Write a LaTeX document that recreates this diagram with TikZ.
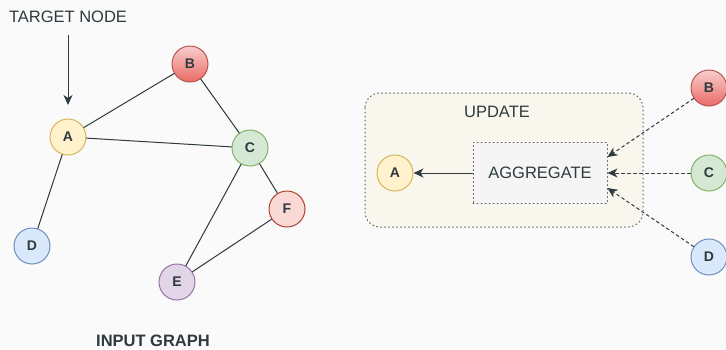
\documentclass[tikz,border=0pt]{standalone}
\usepackage{fontspec}
\setmainfont{Liberation Sans}
\usetikzlibrary{arrows.meta, bending, positioning, backgrounds}
\tikzset{x=1pt,y=-1pt, >={Stealth[length=10pt,width=9pt,inset=3pt]}}

\begin{document}
\begin{tikzpicture}
% Style
[
    line cap=round,
    vertex/.style={circle, minimum size=36pt, inner sep=0pt, line width=1pt,
        font=\fontsize{14}{16}\selectfont\bfseries, text=ink},
    edge line/.style={line width=1pt, draw=ink},
    feed line/.style={line width=1pt, draw=ink, dash pattern=on 3pt off 3pt, ->},
    label text/.style={font=\fontsize{16.5}{19}\selectfont, text=ink},
    dotted box/.style={line width=1pt, draw=ink!80, dash pattern=on 1pt off 3pt}
]

% Define: Colors
\definecolor{ink}{HTML}{2E3A3E}
\definecolor{paper}{HTML}{FAFAFA}
\definecolor{a_fill}{HTML}{FFF2CC}\definecolor{a_line}{HTML}{D6B656}
\definecolor{b_top}{HTML}{F8CECC}\definecolor{b_bot}{HTML}{EA6B66}\definecolor{b_line}{HTML}{B85450}
\definecolor{c_fill}{HTML}{D5E8D4}\definecolor{c_line}{HTML}{82B366}
\definecolor{d_fill}{HTML}{DAE8FC}\definecolor{d_line}{HTML}{6C8EBF}
\definecolor{e_fill}{HTML}{E1D5E7}\definecolor{e_line}{HTML}{9673A6}
\definecolor{f_fill}{HTML}{FAD9D5}\definecolor{f_line}{HTML}{AE4132}
\definecolor{update_fill}{HTML}{F9F7ED}
\definecolor{agg_fill}{HTML}{F5F5F5}

%=================================== Start ===================================
{
    % Define: Canvas
    \fill [paper] (0,0) rectangle (726,349);
    \useasboundingbox (0,0) rectangle (726,349);

    % Draw: Input graph
    \node [vertex, fill=a_fill, draw=a_line] (A) at (68,137) {A};
    \node [vertex, top color=b_top, bottom color=b_bot, draw=b_line] (B) at (190,64) {B};
    \node [vertex, fill=c_fill, draw=c_line] (C) at (250,148) {C};
    \node [vertex, fill=d_fill, draw=d_line] (D) at (32,246) {D};
    \node [vertex, fill=e_fill, draw=e_line] (E) at (177,282) {E};
    \node [vertex, fill=f_fill, draw=f_line] (F) at (287,209) {F};
    \foreach \u/\v in {A/B, A/C, B/C, A/D, C/E, C/F, E/F} {
        \draw [edge line] (\u) -- (\v);
    }

    % Draw: Target label
    \node [label text] (target) at (68,17) {TARGET NODE};
    \coordinate (target tip) at (68,105);
    \draw [edge line, ->, shorten <=9pt] (target.south) -- (target tip);
    \node [label text, font=\fontsize{16.5}{19}\selectfont\bfseries] (input) at (153,341) {INPUT GRAPH};

    % Draw: Update block
    \draw [dotted box, fill=update_fill, rounded corners=15pt] (365,93) rectangle (643,227);
    \node [label text] (update) at (497,112) {UPDATE};
    \node [dotted box, fill=agg_fill, minimum width=134pt, minimum height=61pt,
        label text] (agg) at (540,173) {AGGREGATE};
    \node [vertex, fill=a_fill, draw=a_line] (A2) at (395,173) {A};

    % Draw: Neighbours
    \node [vertex, top color=b_top, bottom color=b_bot, draw=b_line] (B2) at (709,88) {B};
    \node [vertex, fill=c_fill, draw=c_line] (C2) at (709,173) {C};
    \node [vertex, fill=d_fill, draw=d_line] (D2) at (709,257) {D};

    % Draw: Messages
    \draw [edge line, ->] (agg) -- (A2);
    \draw [feed line] (B2) -- ([yshift=16pt]agg.east);
    \draw [feed line] (C2) -- (agg.east);
    \draw [feed line] (D2) -- ([yshift=-15pt]agg.east);
}
%==================================== END ====================================
\end{tikzpicture}
\end{document}
